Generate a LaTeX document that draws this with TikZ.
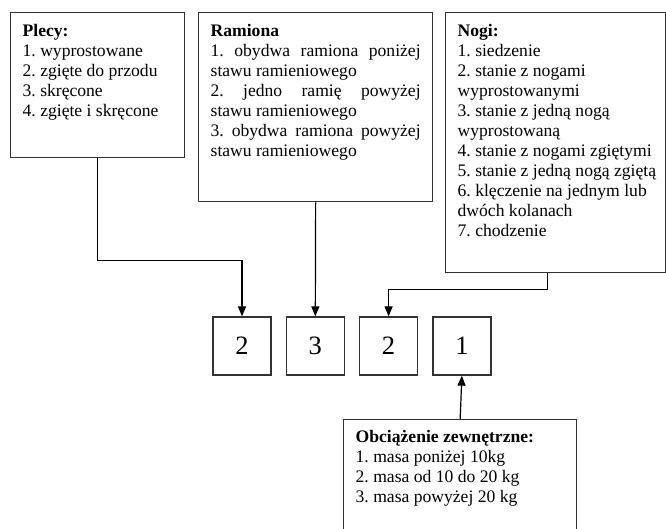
\documentclass[tikz,border=0pt]{standalone}
\usepackage{fontspec}
\setmainfont{Liberation Serif}
\usetikzlibrary{positioning,arrows.meta}
\frenchspacing
\newcommand{\tekst}{\fontsize{17.6}{20}\selectfont}
\tikzset{
	opis/.style={draw=black!80, line width=1.3pt, anchor=north west, align=flush left, font=\tekst, inner xsep=12pt, inner ysep=10pt, text height=14pt},
	kwadrat/.style={draw=black!80, line width=1.3pt, minimum size=58pt, inner sep=0pt, font=\fontsize{26.5}{30}\selectfont},
	strzalka/.style={line width=1.2pt, -{Triangle[length=10pt,width=8pt]}}
}
\begin{document}
\begin{tikzpicture}[x=1pt, y=-1pt]
		\useasboundingbox (0,0) rectangle (666,528);
		\clip (0,0) rectangle (666,528);
		%plecy
		\node[opis, text width=150pt, text depth=111pt] (plecy) at (10,12) {\textbf{Plecy:}\\1. wyprostowane\\2. zgięte do przodu\\3. skręcone\\4. zgięte i skręcone};
		%ramiona
		\node[opis, text width=210pt, text depth=155pt] (ramiona) at (198,12) {\textbf{Ramiona}\\\makebox[\linewidth][s]{1. obydwa ramiona poniżej}\\stawu ramieniowego\\\makebox[\linewidth][s]{2. jedno ramię powyżej}\\stawu ramieniowego\\\makebox[\linewidth][s]{3. obydwa ramiona powyżej}\\stawu ramieniowego};
		%nogi
		\node[opis, text width=196pt, text depth=226pt] (nogi) at (445,12) {\textbf{Nogi:}\\1. siedzenie\\2. stanie z nogami\\wyprostowanymi\\3. stanie z jedną nogą\\wyprostowaną\\\mbox{4. stanie z nogami zgiętymi}\\\mbox{5. stanie z jedną nogą zgiętą}\\\mbox{6. klęczenie na jednym lub}\\dwóch kolanach\\7. chodzenie};
		%obciazenie
		\node[opis, text width=209pt, text height=13pt, text depth=88pt] (obc) at (343,419) {\textbf{Obciążenie zewnętrzne:}\\1. masa poniżej 10kg\\2. masa od 10 do 20 kg\\3. masa powyżej 20 kg};
		%kod
		\node[kwadrat] (s1) at (242,346) {2};
		\node[kwadrat, right=14pt of s1] (s2) {3};
		\node[kwadrat, right=14pt of s2] (s3) {2};
		\node[kwadrat, right=14pt of s3] (s4) {1};
		%strzalki
		\draw[strzalka] (plecy.south) -- ++(0,102) -| (s1.north);
		\draw[strzalka] (ramiona.south) -- (s2.north);
		\coordinate (n1) at ([xshift=-8pt]nogi.south);
		\draw[strzalka] (n1) -- ++(0,16) -| (s3.north);
		\draw[strzalka] (obc.north) -- (s4.south);
	\end{tikzpicture}
\end{document}
